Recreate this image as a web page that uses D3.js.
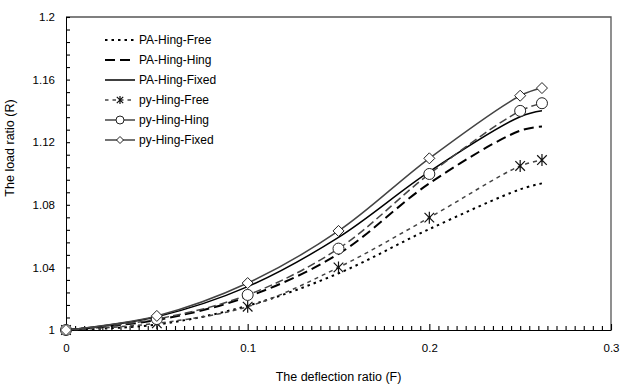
<!DOCTYPE html>
<html>
<head>
<meta charset="utf-8">
<script src="https://cdn.jsdelivr.net/npm/d3@7"></script>
<style>
  body { margin: 0; background: #fff; }
  svg { display: block; font-family: Arial, "Liberation Sans", sans-serif; }
</style>
</head>
<body>
<div id="chart"></div>
<script>
// deflection ratio (F) sample points
const deflection = [0, 0.05, 0.1, 0.15, 0.2, 0.25, 0.262];

// load ratio (R) per series
const paHingFree  = [1, 1.0035, 1.0155, 1.0362, 1.0645, 1.0899, 1.0937];
const paHingHing  = [1, 1.0064, 1.0213, 1.0486, 1.0937, 1.1274, 1.1300];
const paHingFixed = [1, 1.0085, 1.0277, 1.0592, 1.1012, 1.1363, 1.1401];
const pyHingFree  = [1, 1.0043, 1.0149, 1.0400, 1.0718, 1.1048, 1.1086];
const pyHingHing  = [1, 1.0070, 1.0224, 1.0520, 1.0997, 1.1400, 1.1449];
const pyHingFixed = [1, 1.0090, 1.0300, 1.0633, 1.1097, 1.1497, 1.1546];

const xTicks = [0, 0.1, 0.2, 0.3];
const yTicks = [1, 1.04, 1.08, 1.12, 1.16, 1.2];

const series = [
  { name: "PA-Hing-Free",  values: paHingFree,  stroke: "#000", width: 2,   dash: "2.5,4", marker: null },
  { name: "PA-Hing-Hing",  values: paHingHing,  stroke: "#000", width: 2,   dash: "10,5",  marker: null },
  { name: "PA-Hing-Fixed", values: paHingFixed, stroke: "#000", width: 1.5, dash: null,    marker: null },
  { name: "py-Hing-Free",  values: pyHingFree,  stroke: "#444", width: 1.5, dash: "4,4",   marker: "star" },
  { name: "py-Hing-Hing",  values: pyHingHing,  stroke: "#444", width: 1.5, dash: "8,4",   marker: "circle" },
  { name: "py-Hing-Fixed", values: pyHingFixed, stroke: "#444", width: 1.5, dash: null,    marker: "diamond" }
];

const width = 621, height = 387;
const margin = { top: 17, right: 10, bottom: 57, left: 66 };

const svg = d3.select("#chart").append("svg")
  .attr("width", width)
  .attr("height", height);

const x = d3.scaleLinear().domain([0, 0.3]).range([margin.left, width - margin.right]);
const y = d3.scaleLinear().domain([1, 1.2]).range([height - margin.bottom, margin.top]);

// frame (top/right)
svg.append("path")
  .attr("d", `M${x(0)},${y(1.2)}H${x(0.3)}V${y(1)}`)
  .attr("fill", "none")
  .attr("stroke", "#555")
  .attr("stroke-width", 1.3);

// inward minor ticks (every 0.005 on x, 0.008 on y)
const xMinor = d3.range(0, 60.5).map(i => i * 0.005);
const yMinor = d3.range(0, 25.5).map(i => 1 + i * 0.008);

svg.append("g")
  .attr("transform", `translate(0,${y(1)})`)
  .call(d3.axisTop(x).tickValues(xMinor).tickSize(4).tickFormat(""))
  .call(g => g.select(".domain").remove())
  .call(g => g.selectAll(".tick line").attr("stroke", "#000").attr("stroke-width", 1.1)
    .attr("y2", (d, i) => i % 20 === 0 ? -6 : -4));

svg.append("g")
  .attr("transform", `translate(${x(0)},0)`)
  .call(d3.axisRight(y).tickValues(yMinor).tickSize(4).tickFormat(""))
  .call(g => g.select(".domain").remove())
  .call(g => g.selectAll(".tick line").attr("stroke", "#000").attr("stroke-width", 1.1));

svg.append("g")
  .attr("transform", `translate(0,${y(1)})`)
  .call(d3.axisBottom(x).tickValues(xTicks).tickSize(0).tickPadding(14).tickFormat(d3.format("")))
  .call(g => g.select(".domain").attr("stroke", "#000"))
  .call(g => g.selectAll("text").attr("font-size", 11.5).attr("fill", "#000").attr("font-family", "Arial, 'Liberation Sans', sans-serif"));

svg.append("g")
  .attr("transform", `translate(${x(0)},0)`)
  .call(d3.axisLeft(y).tickValues(yTicks).tickSize(0).tickPadding(11).tickFormat(d3.format("")))
  .call(g => g.select(".domain").attr("stroke", "#000"))
  .call(g => g.selectAll("text").attr("font-size", 11.5).attr("fill", "#000").attr("font-family", "Arial, 'Liberation Sans', sans-serif"));

// axis titles
svg.append("text")
  .attr("x", (x(0) + x(0.3)) / 2)
  .attr("y", 381)
  .attr("text-anchor", "middle")
  .attr("font-size", 12.5)
  .text("The deflection ratio (F)");

svg.append("text")
  .attr("transform", `translate(14,148) rotate(-90)`)
  .attr("text-anchor", "middle")
  .attr("font-size", 12.5)
  .text("The load ratio (R)");

const line = d3.line()
  .curve(d3.curveCatmullRom.alpha(0.5))
  .x((d, i) => x(deflection[i]))
  .y(d => y(d));

svg.append("g")
  .attr("fill", "none")
  .selectAll("path")
  .data(series)
  .join("path")
  .attr("stroke", s => s.stroke)
  .attr("stroke-width", s => s.width)
  .attr("stroke-dasharray", s => s.dash)
  .attr("d", s => line(s.values));

function drawMarker(g, type, cx, cy, r) {
  if (type === "circle") {
    g.append("circle").attr("cx", cx).attr("cy", cy).attr("r", r)
      .attr("fill", "#fff").attr("stroke", "#222").attr("stroke-width", 1);
  } else if (type === "diamond") {
    g.append("path").attr("d", `M${cx},${cy - r}L${cx + r},${cy}L${cx},${cy + r}L${cx - r},${cy}Z`)
      .attr("fill", "#fff").attr("stroke", "#222").attr("stroke-width", 1);
  } else if (type === "star") {
    const k = r * 0.8;
    g.append("path").attr("d", `M${cx},${cy - r}V${cy + r}M${cx - k},${cy - k}L${cx + k},${cy + k}M${cx - k},${cy + k}L${cx + k},${cy - k}`)
      .attr("fill", "none").attr("stroke", "#111").attr("stroke-width", 1.2);
  }
}

const markerSize = { circle: 5.5, diamond: 5.5, star: 6 };
const legendSize = { circle: 4, diamond: 3.5, star: 4 };

const markers = svg.append("g");
series.filter(s => s.marker).forEach(s => {
  s.values.forEach((v, i) => drawMarker(markers, s.marker, x(deflection[i]), y(v), markerSize[s.marker]));
});

// legend
const legend = svg.append("g");
series.forEach((s, i) => {
  const ly = 40 + i * 20;
  let dash = s.dash;
  if (s.marker === "circle") dash = null;
  if (s.marker === "star") dash = "3.5,4";
  legend.append("line")
    .attr("x1", 105).attr("x2", 135)
    .attr("y1", ly).attr("y2", ly)
    .attr("stroke", s.stroke)
    .attr("stroke-width", s.width)
    .attr("stroke-dasharray", dash);
  if (s.marker) drawMarker(legend, s.marker, 120, ly, legendSize[s.marker]);
  legend.append("text")
    .attr("x", 139)
    .attr("y", ly)
    .attr("dy", "0.35em")
    .attr("font-size", 12)
    .text(s.name);
});
</script>
</body>
</html>
